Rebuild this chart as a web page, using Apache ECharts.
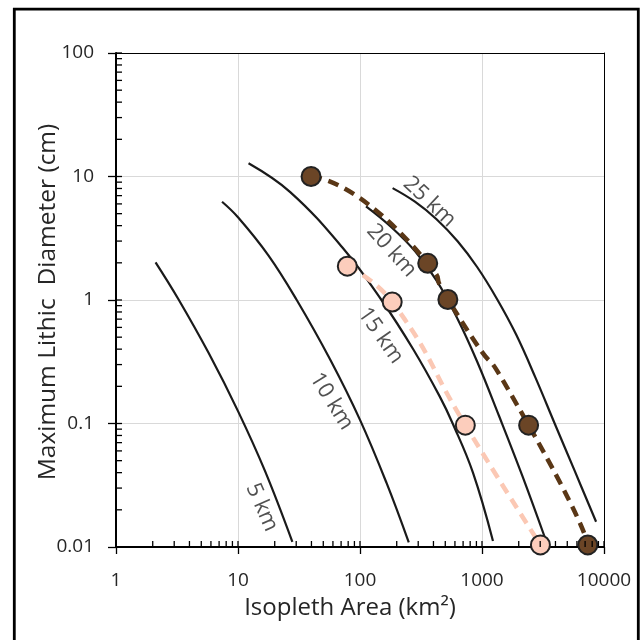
<!DOCTYPE html>
<html>
<head>
<meta charset="utf-8">
<script src="https://cdn.jsdelivr.net/npm/echarts@6/dist/echarts.min.js"></script>
<style>html,body{margin:0;padding:0;background:#fff;}#c{width:640px;height:640px;}</style>
</head>
<body>
<div id="c"></div>
<script>
// ---- data ----
const xTickLabels = [1, 10, 100, 1000, 10000];
const yTickLabels = ['0.01', '0.1', '1', '10', '100'];
const curve5km  = [[2.11,2.02],[3.24,1.02],[5.75,0.372],[10,0.126],[16.6,0.0415],[27.9,0.011]];
const curve10km = [[7.40,6.25],[10,4.68],[17.8,2.29],[30.3,1.0],[56.8,0.331],[100,0.107],[165,0.033],[251,0.0109]];
const curve15km = [[12.2,12.8],[26.8,7.48],[72.9,2.61],[150,1.0],[273,0.399],[451,0.165],[575,0.1],[843,0.04],[1230,0.0112]];
const curve20km = [[112,5.73],[178,3.94],[282,2.49],[427,1.42],[631,0.703],[912,0.318],[1380,0.115],[2138,0.0378],[3319,0.0115]];
const curve25km = [[185,8.05],[282,6.25],[424,4.51],[631,2.99],[912,1.85],[1327,1.02],[1905,0.525],[2754,0.233],[3926,0.101],[5754,0.0413],[8610,0.016]];
const darkSeries  = [[39.7,10.0],[359,1.98],[525,1.01],[2410,0.097],[7365,0.0104]];
const lightSeries = [[78.7,1.88],[183.6,0.964],[730,0.097],[3012,0.0104]];
const curveLabels = ['5 km','10 km','15 km','20 km','25 km'];
const curveLabelAnchors = [[15.7,0.0209],[58.4,0.151],[147.6,0.514],[181.6,2.51],[371.5,6.24]];
const curveLabelRotations = [-66,-58,-55,-48,-43];
const mantissas = [2,3,4,5,6,7,8,9];
const decadesX = [1,10,100,1000];
const decadesY = [0.01,0.1,1,10];

const X_MIN = 1, X_MAX = 10000, Y_MIN = 0.01, Y_MAX = 100;

const xMinor = [], yMinor = [];
decadesX.forEach(d => mantissas.forEach(m => xMinor.push(+(d*m).toPrecision(3))));
decadesY.forEach(d => mantissas.forEach(m => yMinor.push(+(d*m).toPrecision(3))));

const FONT = 'Open Sans';
const TXT = '#262626';

const chart = echarts.init(document.getElementById('c'), null, {renderer: 'canvas'});

function fmtY(v) {
  const s = yTickLabels.find(t => Math.abs(parseFloat(t) - v) / v < 1e-6);
  return s || '';
}

const curveStyle = {color: '#1a1a1a', width: 2.2};
function curve(name, data) {
  return {
    name, type: 'line', data, smooth: 0.4, symbol: 'none',
    lineStyle: curveStyle, z: 3, silent: true
  };
}

function tickSeries(values, isX, inLen) {
  return {
    type: 'custom', coordinateSystem: 'cartesian2d', silent: true, clip: false, z: 10,
    data: values.map(v => isX ? [v, Y_MIN] : [X_MIN, v]),
    renderItem: function (params, api) {
      const p = api.coord([api.value(0), api.value(1)]);
      const shape = isX
        ? {x1: p[0], y1: p[1], x2: p[0], y2: p[1] - inLen}
        : {x1: p[0], y1: p[1], x2: p[0] + inLen, y2: p[1]};
      return {type: 'line', shape, style: {stroke: '#000', lineWidth: 1.3}};
    }
  };
}

const option = {
  animation: false,
  backgroundColor: '#fff',
  grid: {left: 116, right: 36, top: 53, bottom: 93, containLabel: false},
  xAxis: [{
    type: 'log', logBase: 10, min: X_MIN, max: X_MAX,
    axisLine: {show: true, lineStyle: {color: '#000', width: 2}},
    axisTick: {show: true, inside: false, length: 7, lineStyle: {color: '#000', width: 1.3}},
    axisLabel: {
      show: true, margin: 24, fontFamily: FONT, fontSize: 19, color: TXT,
      formatter: v => { const t = xTickLabels.find(k => Math.abs(k - v) / k < 1e-6); return t === undefined ? '' : String(t); }
    },
    splitLine: {show: true, lineStyle: {color: '#d9d9d9', width: 1}},
    minorTick: {show: false}
  }, {
    type: 'log', logBase: 10, min: X_MIN, max: X_MAX, position: 'top',
    axisLine: {show: true, lineStyle: {color: '#000', width: 1}},
    axisTick: {show: false}, axisLabel: {show: false}, splitLine: {show: false}
  }],
  yAxis: [{
    type: 'log', logBase: 10, min: Y_MIN, max: Y_MAX,
    axisLine: {show: true, lineStyle: {color: '#000', width: 2}},
    axisTick: {show: true, inside: false, length: 8, lineStyle: {color: '#000', width: 1.3}},
    axisLabel: {show: true, margin: 22, fontFamily: FONT, fontSize: 19, color: TXT, formatter: fmtY},
    splitLine: {show: true, lineStyle: {color: '#d9d9d9', width: 1}}
  }, {
    type: 'log', logBase: 10, min: Y_MIN, max: Y_MAX, position: 'right',
    axisLine: {show: true, lineStyle: {color: '#000', width: 1}},
    axisTick: {show: false}, axisLabel: {show: false}, splitLine: {show: false}
  }],
  series: [
    curve('5 km', curve5km),
    curve('10 km', curve10km),
    curve('15 km', curve15km),
    curve('20 km', curve20km),
    curve('25 km', curve25km),
    {
      name: 'light', type: 'line', data: lightSeries, smooth: 0.5, z: 5,
      lineStyle: {color: '#fbc8b4', width: 4.5, type: [11, 7]},
      symbol: 'circle', symbolSize: 19,
      itemStyle: {color: '#fccdbc', borderColor: '#222', borderWidth: 2}
    },
    {
      name: 'dark', type: 'line', data: darkSeries, smooth: 0.9, z: 6,
      lineStyle: {color: '#5a3716', width: 4.5, type: [11, 7]},
      symbol: 'circle', symbolSize: 19,
      itemStyle: {color: '#6b4526', borderColor: '#222', borderWidth: 2}
    },
    {
      name: 'labels', type: 'scatter', symbolSize: 0, silent: true, z: 7,
      data: curveLabels.map((t, i) => ({
        name: t, value: curveLabelAnchors[i],
        label: {rotate: curveLabelRotations[i]}
      })),
      label: {
        show: true, position: 'inside', formatter: p => p.name,
        fontFamily: FONT, fontSize: 22, color: TXT, align: 'center', verticalAlign: 'middle'
      }
    },
    tickSeries(xMinor, true, 6),
    tickSeries(yMinor, false, 6),
    tickSeries(xTickLabels, true, 6),
    tickSeries(yTickLabels.map(Number), false, 6)
  ],
  graphic: [
    {type: 'rect', shape: {x: 14.3, y: 9.2, width: 624, height: 660},
     style: {fill: 'none', stroke: '#000', lineWidth: 2.8}, silent: true},
    {type: 'text', x: 350, y: 608,
     style: {text: 'Isopleth Area (km²)', font: '24px "Open Sans"', fill: TXT, align: 'center', verticalAlign: 'middle'}},
    {type: 'text', x: 48, y: 302, rotation: Math.PI / 2,
     style: {text: 'Maximum Lithic  Diameter (cm)', font: '24.5px "Open Sans"', fill: TXT, align: 'center', verticalAlign: 'middle'}}
  ]
};
chart.setOption(option);
</script>
</body>
</html>
